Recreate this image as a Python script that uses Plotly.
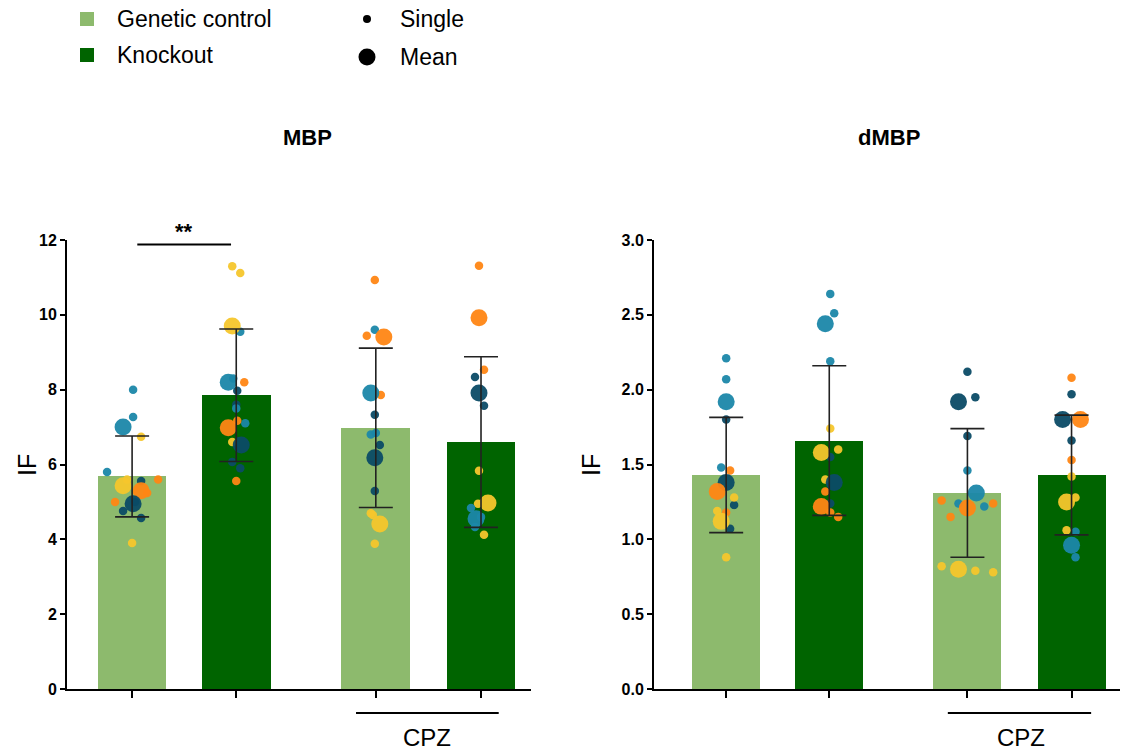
import plotly.graph_objects as go

# ---------------- data ----------------
group_pos = [0, 1, 2.34, 3.35]          # bar positions on x
bar_kind = ["ctrl", "ko", "ctrl", "ko"]

mbp_mean = [5.68, 7.85, 6.98, 6.60]
mbp_sd = [1.08, 1.77, 2.13, 2.28]
dmbp_mean = [1.43, 1.66, 1.31, 1.43]
dmbp_sd = [0.385, 0.50, 0.43, 0.40]

animal_colors = ["#F6C62C", "#FF8614", "#1B87A9", "#0B4B66"]  # yellow, orange, teal, navy

# MBP singles: group index, animal index, value, jitter (px)
mbp_s_group = [0]*13 + [1]*14 + [2]*12 + [3]*10
mbp_s_animal = [2, 2, 2, 0, 0, 0, 1, 1, 1, 3, 3, 3, 3,
                0, 0, 0, 2, 2, 1, 1, 1, 3, 3, 3, 3, 2, 2,
                1, 1, 1, 2, 2, 2, 3, 3, 3, 0, 0, 0,
                1, 1, 3, 3, 0, 0, 0, 2, 2, 2]
mbp_s_value = [8.0, 7.27, 5.80, 6.74, 3.90, 5.6, 5.60, 5.00, 5.24, 5.56, 4.76, 4.57, 5.0,
               11.30, 11.12, 6.60, 9.55, 7.10, 8.20, 7.17, 5.56, 7.97, 7.60, 6.07, 5.90, 8.3, 7.5,
               10.93, 9.44, 7.86, 9.60, 6.80, 6.84, 7.33, 6.52, 5.29, 4.65, 3.88, 4.70,
               11.31, 8.53, 8.34, 7.57, 5.83, 4.95, 4.12, 4.84, 4.33, 4.60]
mbp_s_jit = [1, 1, -25, 9, 0, -5, 26, -17, 15, 9, -9, 9, 3,
             -4, 4, -4, 4, 9, 8, 1, 0, 1, 0, -4, 4, -3, 0,
             -1, -9, 5, -1, -5, 0, -1, 4, -1, -3, -1, -5,
             -2, 3, -6, 3, -2, -3, 3, -10, -6, 0]

mbp_m_group = [0]*4 + [1]*4 + [2]*4 + [3]*4
mbp_m_animal = [2, 0, 1, 3, 0, 2, 1, 3, 1, 2, 3, 0, 1, 3, 0, 2]
mbp_m_value = [7.00, 5.43, 5.30, 4.95, 9.70, 8.20, 6.98, 6.52, 9.41, 7.91, 6.18, 4.41, 9.92, 7.91, 4.97, 4.55]
mbp_m_jit = [-9, -9, 9, 1, -4, -8, -8, 5, 8, -5, -1, 4, -2, -2, 7, -5]

# dMBP singles
dmbp_s_group = [0]*11 + [1]*11 + [2]*12 + [3]*9
dmbp_s_animal = [2, 2, 2, 3, 3, 3, 1, 1, 0, 0, 0,
                 2, 2, 2, 0, 0, 0, 3, 3, 1, 1, 1,
                 3, 3, 3, 2, 2, 2, 1, 1, 1, 0, 0, 0,
                 1, 1, 3, 3, 0, 0, 0, 2, 2]
dmbp_s_value = [2.21, 2.07, 1.48, 1.80, 1.23, 1.07, 1.46, 1.18, 1.28, 1.19, 0.88,
                2.64, 2.51, 2.19, 1.74, 1.60, 1.40, 1.55, 1.24, 1.32, 1.18, 1.15,
                2.12, 1.95, 1.69, 1.46, 1.24, 1.22, 1.26, 1.24, 1.15, 0.82, 0.79, 0.78,
                2.08, 1.53, 1.97, 1.66, 1.42, 1.28, 1.06, 1.05, 0.88]
dmbp_s_jit = [0, 0, -5, 0, 8, 4, 4, 0, 8, -9, 0,
              1, 5, 1, 1, 9, -4, 1, 1, -4, 1, 9,
              0, 8, 0, 0, -9, 17, -26, 26, -17, -26, 8, 26,
              0, 0, 0, 0, 0, 4, -5, 4, 4]

dmbp_m_group = [0]*4 + [1]*4 + [2]*4 + [3]*4
dmbp_m_animal = [2, 3, 1, 0, 2, 0, 3, 1, 3, 2, 1, 0, 3, 1, 0, 2]
dmbp_m_value = [1.92, 1.38, 1.32, 1.12, 2.44, 1.58, 1.38, 1.22, 1.92, 1.31, 1.21, 0.80, 1.80, 1.80, 1.25, 0.96]
dmbp_m_jit = [0, 0, -9, -5, -4, -8, 5, -8, -9, 9, 0, -9, -9, 9, -5, 0]

mbp_ticks = [0, 2, 4, 6, 8, 10, 12]
dmbp_ticks = [0.0, 0.5, 1.0, 1.5, 2.0, 2.5, 3.0]

# ---------------- style ----------------
LIGHT = "#8DBA6D"
DARK = "#006400"
FONT = "Arial, Liberation Sans, sans-serif"
PX_PER_UNIT = 104.0
W, H = 1121, 751

fig = go.Figure()


def add_panel(xa, ya, means, sds, s_group, s_animal, s_value, s_jit,
              m_group, m_animal, m_value, m_jit):
    fig.add_trace(go.Bar(
        x=group_pos, y=means, width=0.66,
        marker=dict(color=[LIGHT if k == "ctrl" else DARK for k in bar_kind], line=dict(width=0)),
        xaxis=xa, yaxis=ya, showlegend=False, hoverinfo="skip"))
    fig.add_trace(go.Scatter(
        x=[group_pos[g] + j / PX_PER_UNIT for g, j in zip(s_group, s_jit)],
        y=s_value, mode="markers",
        marker=dict(size=8.5, color=[animal_colors[a] for a in s_animal], opacity=0.95, line=dict(width=0)),
        xaxis=xa, yaxis=ya, showlegend=False, hoverinfo="skip"))
    fig.add_trace(go.Scatter(
        x=[group_pos[g] + j / PX_PER_UNIT for g, j in zip(m_group, m_jit)],
        y=m_value, mode="markers",
        marker=dict(size=17, color=[animal_colors[a] for a in m_animal], opacity=0.95, line=dict(width=0)),
        xaxis=xa, yaxis=ya, showlegend=False, hoverinfo="skip"))
    fig.add_trace(go.Scatter(
        x=group_pos, y=means, mode="markers",
        marker=dict(size=1, opacity=0),
        error_y=dict(type="data", array=sds, visible=True, color="#222222", thickness=1.6, width=17),
        xaxis=xa, yaxis=ya, showlegend=False, hoverinfo="skip"))


add_panel("x", "y", mbp_mean, mbp_sd, mbp_s_group, mbp_s_animal, mbp_s_value, mbp_s_jit,
          mbp_m_group, mbp_m_animal, mbp_m_value, mbp_m_jit)
add_panel("x2", "y2", dmbp_mean, dmbp_sd, dmbp_s_group, dmbp_s_animal, dmbp_s_value, dmbp_s_jit,
          dmbp_m_group, dmbp_m_animal, dmbp_m_value, dmbp_m_jit)

ydom = [1 - 689 / H, 1 - 240 / H]
xaxis_common = dict(showgrid=False, zeroline=False, showline=True, linecolor="black", linewidth=2,
                    ticks="outside", ticklen=7, tickwidth=2, tickcolor="black",
                    tickvals=group_pos, showticklabels=False)
yaxis_common = dict(showgrid=False, zeroline=False, showline=True, linecolor="black", linewidth=2,
                    ticks="outside", ticklen=5, tickwidth=2, tickcolor="black",
                    tickfont=dict(family=FONT, size=16, color="black", weight="bold"), domain=ydom)

fig.update_layout(
    width=W, height=H, plot_bgcolor="white", paper_bgcolor="white",
    margin=dict(l=0, r=0, t=0, b=0, pad=0, autoexpand=False),
    font=dict(family=FONT, color="black"),
    xaxis=dict(domain=[67 / W, 531 / W], range=[-0.625, 3.83], anchor="y", **xaxis_common),
    yaxis=dict(range=[0, 12], tickvals=mbp_ticks, anchor="x", **yaxis_common),
    xaxis2=dict(domain=[654 / W, 1120 / W], range=[-0.70, 3.82], anchor="y2", **xaxis_common),
    yaxis2=dict(range=[0, 3.0], tickvals=dmbp_ticks, tickformat=".1f", anchor="x2", **yaxis_common),
    bargap=0,
)


def ann(x, y, text, size, xref="paper", yref="paper", xanchor="center", angle=0, bold=False):
    fig.add_annotation(xref=xref, yref=yref, x=x, y=y, text=text, showarrow=False,
                       xanchor=xanchor, yanchor="middle", textangle=angle,
                       font=dict(size=size, family=FONT, color="black",
                                 weight="bold" if bold else "normal"))


# significance bar
fig.add_shape(type="line", xref="x", yref="y", x0=0.05, x1=0.95, y0=11.88, y1=11.88,
              line=dict(color="black", width=2))
ann(0.5, 1 - 232 / H, "**", 22, xref="x", bold=True)

# CPZ labels
for xr, x0, x1, xc in [("x", 2.15, 3.52, 2.83), ("x2", 2.15, 3.54, 2.86)]:
    fig.add_shape(type="line", xref=xr, yref="paper", x0=x0, x1=x1, y0=1 - 713 / H, y1=1 - 713 / H,
                  line=dict(color="black", width=2))
    ann(xc, 1 - 737 / H, "CPZ", 24, xref=xr)

# panel titles
ann(307 / W, 1 - 137 / H, "MBP", 22, bold=True)
ann(889 / W, 1 - 137 / H, "dMBP", 22, bold=True)

# y titles
for xp in [27, 591]:
    ann(xp / W, 1 - 465 / H, "IF", 25, angle=-90)

# legend
legend_items = [(87, 19, "Genetic control", "square", LIGHT, 14),
                (87, 55, "Knockout", "square", DARK, 14),
                (367, 19, "Single", "circle", "black", 8),
                (367, 57, "Mean", "circle", "black", 17)]
for cx, cy, label, shp, col, sz in legend_items:
    fig.add_shape(type="rect" if shp == "square" else "circle", xref="paper", yref="paper",
                  x0=(cx - sz / 2) / W, x1=(cx + sz / 2) / W,
                  y0=1 - (cy + sz / 2) / H, y1=1 - (cy - sz / 2) / H,
                  fillcolor=col, line=dict(width=0))
    tx = 115 if shp == "square" else 398
    ann(tx / W, 1 - cy / H, label, 23, xanchor="left")

fig.write_html("out.html", config={"displayModeBar": False},
               post_script="document.body.style.margin='0';document.body.style.overflow='hidden';")
